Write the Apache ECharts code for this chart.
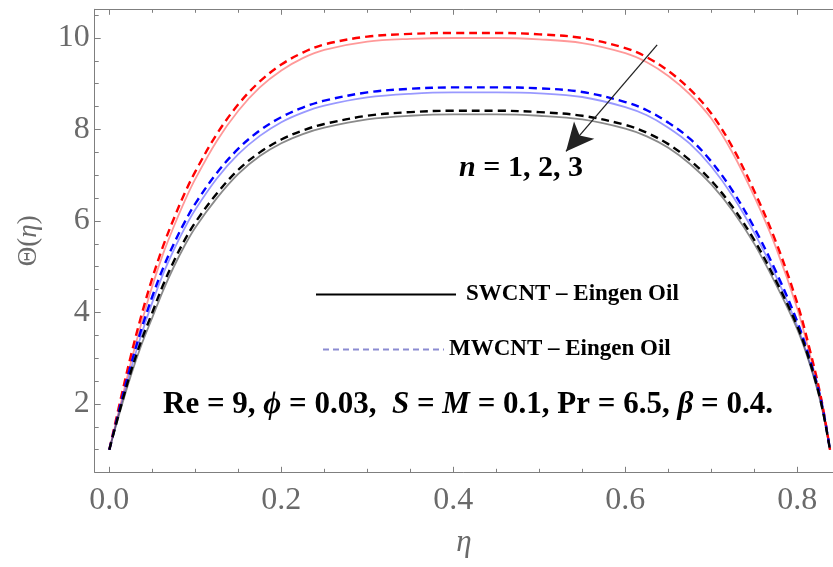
<!DOCTYPE html>
<html><head><meta charset="utf-8">
<script src="https://cdn.jsdelivr.net/npm/echarts@6/dist/echarts.min.js"></script>
<style>html,body{margin:0;padding:0;background:#fff}#c{width:833px;height:567px}</style>
</head><body><div id="c"></div>
<script>
// ---- data ----
const eta = [0,0.0125,0.025,0.0375,0.05,0.0625,0.075,0.0875,0.1,0.125,0.15,0.175,0.2,0.225,0.25,0.3,0.35,0.4,0.45,0.5,0.55,0.6,0.625,0.65,0.675,0.7,0.725,0.75,0.775,0.8,0.815,0.828,0.838];
// SWCNT (solid)
const sw_n1 = [1.0,1.95,2.9,3.78,4.58,5.28,5.88,6.43,6.92,7.75,8.41,8.92,9.29,9.56,9.74,9.92,9.98,10.0,10.0,9.97,9.89,9.67,9.47,9.17,8.77,8.24,7.48,6.53,5.43,4.08,3.05,2.03,1.0];
const sw_n2 = [1.0,1.9,2.75,3.53,4.22,4.84,5.37,5.84,6.25,6.93,7.46,7.86,8.16,8.37,8.52,8.7,8.78,8.81,8.81,8.79,8.71,8.49,8.31,8.04,7.69,7.19,6.54,5.74,4.8,3.7,2.87,2.0,1.0];
const sw_n3 = [1.0,1.84,2.62,3.3,3.89,4.48,5.0,5.46,5.86,6.5,7.03,7.42,7.7,7.9,8.04,8.22,8.3,8.33,8.33,8.3,8.22,8.02,7.85,7.6,7.25,6.8,6.22,5.5,4.62,3.63,2.84,1.96,1.0];
// MWCNT (dashed)
const mw_n1 = [1.0,2.05,3.05,3.95,4.75,5.45,6.05,6.6,7.08,7.9,8.55,9.05,9.42,9.68,9.86,10.03,10.09,10.11,10.11,10.08,10.0,9.78,9.58,9.28,8.88,8.35,7.6,6.65,5.55,4.2,3.15,2.1,1.0];
const mw_n2 = [1.0,1.95,2.85,3.65,4.35,4.97,5.5,5.97,6.38,7.05,7.58,7.98,8.27,8.48,8.63,8.81,8.89,8.92,8.92,8.9,8.82,8.6,8.42,8.15,7.8,7.3,6.65,5.85,4.9,3.8,2.95,2.05,1.0];
const mw_n3 = [1.0,1.88,2.7,3.4,4.0,4.6,5.12,5.58,5.97,6.6,7.12,7.5,7.78,7.98,8.12,8.3,8.38,8.41,8.41,8.38,8.3,8.1,7.93,7.68,7.33,6.88,6.3,5.58,4.7,3.7,2.9,2.0,1.0];

const xTickLabels = [0,0.2,0.4,0.6,0.8];
const xMinorTicks = [0.05,0.1,0.15,0.25,0.3,0.35,0.45,0.5,0.55,0.65,0.7,0.75];
const yTickLabels = [2,4,6,8,10];
const yMinorTicks = [1,1.5,2.5,3,3.5,4.5,5,5.5,6.5,7,7.5,8.5,9,9.5,10.5];
const arrowFrom = [0.637, 9.85];
const arrowTo = [0.531, 7.52];
const legendNames = ['SWCNT \u2013 Eingen Oil', 'MWCNT \u2013 Eingen Oil'];

// ---- chart ----
const F = 'Liberation Serif';
const AX = '#7f7f7f';
const LBL = '#6a6a6a';
const X_MIN = -0.017, X_MAX = 0.8415, Y_MIN = 0.507, Y_MAX = 10.627;
const pts = ys => eta.map((e, i) => [e, ys[i]]);

function xAxisDef(pos, ticks, len, labels, main) {
  return {
    type: 'value', position: pos, min: X_MIN, max: X_MAX,
    axisLine: { show: main, onZero: false, lineStyle: { color: AX, width: 1 } },
    axisTick: { show: true, inside: true, length: len, customValues: ticks, lineStyle: { color: AX, width: 1 } },
    axisLabel: labels ? { show: true, customValues: ticks, formatter: v => v.toFixed(1), fontFamily: F, fontSize: 32, color: LBL, margin: 12 } : { show: false },
    splitLine: { show: false },
    ...(labels ? { name: '\u03b7', nameLocation: 'middle', nameGap: 55,
      nameTextStyle: { fontFamily: F, fontStyle: 'italic', fontSize: 31, color: LBL } } : {})
  };
}
function yAxisDef(ticks, len, labels, main) {
  return {
    type: 'value', position: 'left', min: Y_MIN, max: Y_MAX,
    axisLine: { show: main, onZero: false, lineStyle: { color: AX, width: 1 } },
    axisTick: { show: true, inside: true, length: len, customValues: ticks, lineStyle: { color: AX, width: 1 } },
    axisLabel: labels ? { show: true, customValues: ticks, formatter: v => String(v), fontFamily: F, fontSize: 32, color: LBL, margin: 5 } : { show: false },
    splitLine: { show: false },
    ...(labels ? { name: '{a|\u0398}{a|(}{b|\u03b7}{a|)}', nameLocation: 'middle', nameGap: 52,
      nameTextStyle: { color: LBL, rich: {
        a: { fontFamily: F, fontSize: 27, color: LBL },
        b: { fontFamily: F, fontSize: 27, fontStyle: 'italic', color: LBL } } } } : {})
  };
}

const solid = (name, ys, color) => ({ type: 'line', name, data: pts(ys), xAxisIndex: 0, yAxisIndex: 0,
  smooth: 0.35, showSymbol: false, symbol: 'none', silent: true,
  lineStyle: { color, width: 1.8, type: 'solid' }, z: 2 });
const dashed = (name, ys, color) => ({ type: 'line', name, data: pts(ys), xAxisIndex: 0, yAxisIndex: 0,
  smooth: 0.35, showSymbol: false, symbol: 'none', silent: true,
  lineStyle: { color, width: 2.4, type: [8, 5] }, z: 3 });

const legendCommon = { padding: 0, itemHeight: 24, selectedMode: false,
  itemStyle: { color: 'transparent', borderColor: 'transparent', borderWidth: 0, opacity: 0 },
  textStyle: { fontFamily: F, fontWeight: 'bold', fontSize: 23, color: '#000' } };

const option = {
  animation: false,
  backgroundColor: '#fff',
  grid: { left: 94.7, top: 9.3, right: 0, bottom: 94.7, containLabel: false },
  xAxis: [
    xAxisDef('bottom', xTickLabels, 5.5, true, true),
    xAxisDef('bottom', xMinorTicks, 3.5, false, false),
    xAxisDef('top', xTickLabels, 5.5, false, true),
    xAxisDef('top', xMinorTicks, 3.5, false, false)
  ],
  yAxis: [
    yAxisDef(yTickLabels, 6, true, true),
    yAxisDef(yMinorTicks, 4, false, false)
  ],
  legend: [
    Object.assign({}, legendCommon, { data: [legendNames[0]], left: 315, top: 283, itemWidth: 140,
      textStyle: Object.assign({}, legendCommon.textStyle, { padding: [0, 0, 0, 5] }) }),
    Object.assign({}, legendCommon, { data: [legendNames[1]], left: 322, top: 338, itemWidth: 121 })
  ],
  graphic: [
    { type: 'text', x: 521, y: 168, style: { text: '{i|n}{r| = 1, 2, 3}', align: 'center', verticalAlign: 'middle',
      rich: { i: { fontFamily: F, fontSize: 30, fontWeight: 'bold', fontStyle: 'italic', fill: '#000' },
              r: { fontFamily: F, fontSize: 30, fontWeight: 'bold', fill: '#000' } } } },
    { type: 'text', x: 468, y: 405, style: {
      text: '{r|Re = 9, }{i|\u03d5}{r| = 0.03,  }{i|S}{r| = }{i|M}{r| = 0.1, Pr = 6.5, }{i|\u03b2}{r| = 0.4.}',
      align: 'center', verticalAlign: 'middle',
      rich: { i: { fontFamily: F, fontSize: 31, fontWeight: 'bold', fontStyle: 'italic', fill: '#000' },
              r: { fontFamily: F, fontSize: 31, fontWeight: 'bold', fill: '#000' } } } }
  ],
  series: [
    solid('sw1', sw_n1, 'rgba(255,70,70,0.55)'),
    solid('sw2', sw_n2, 'rgba(70,70,255,0.55)'),
    solid('sw3', sw_n3, 'rgba(60,60,60,0.6)'),
    dashed('mw1', mw_n1, '#ff0000'),
    dashed('mw2', mw_n2, '#0000ff'),
    dashed('mw3', mw_n3, '#000000'),
    { type: 'line', name: legendNames[0], data: [], symbol: 'none', lineStyle: { color: '#000', width: 1.5, type: 'solid' } },
    { type: 'line', name: legendNames[1], data: [], symbol: 'none', lineStyle: { color: '#8c8cd2', width: 1.5, type: [6, 4] } },
    { type: 'line', name: 'arrow', data: [], symbol: 'none', silent: true,
      markLine: { silent: true, symbol: ['none', 'arrow'], symbolSize: [20, 28], label: { show: false },
        lineStyle: { color: '#222', width: 1.3, type: 'solid' },
        data: [[{ coord: arrowFrom }, { coord: arrowTo }]] } }
  ]
};
const chart = echarts.init(document.getElementById('c'), null, { renderer: 'canvas' });
chart.setOption(option);
</script></body></html>
